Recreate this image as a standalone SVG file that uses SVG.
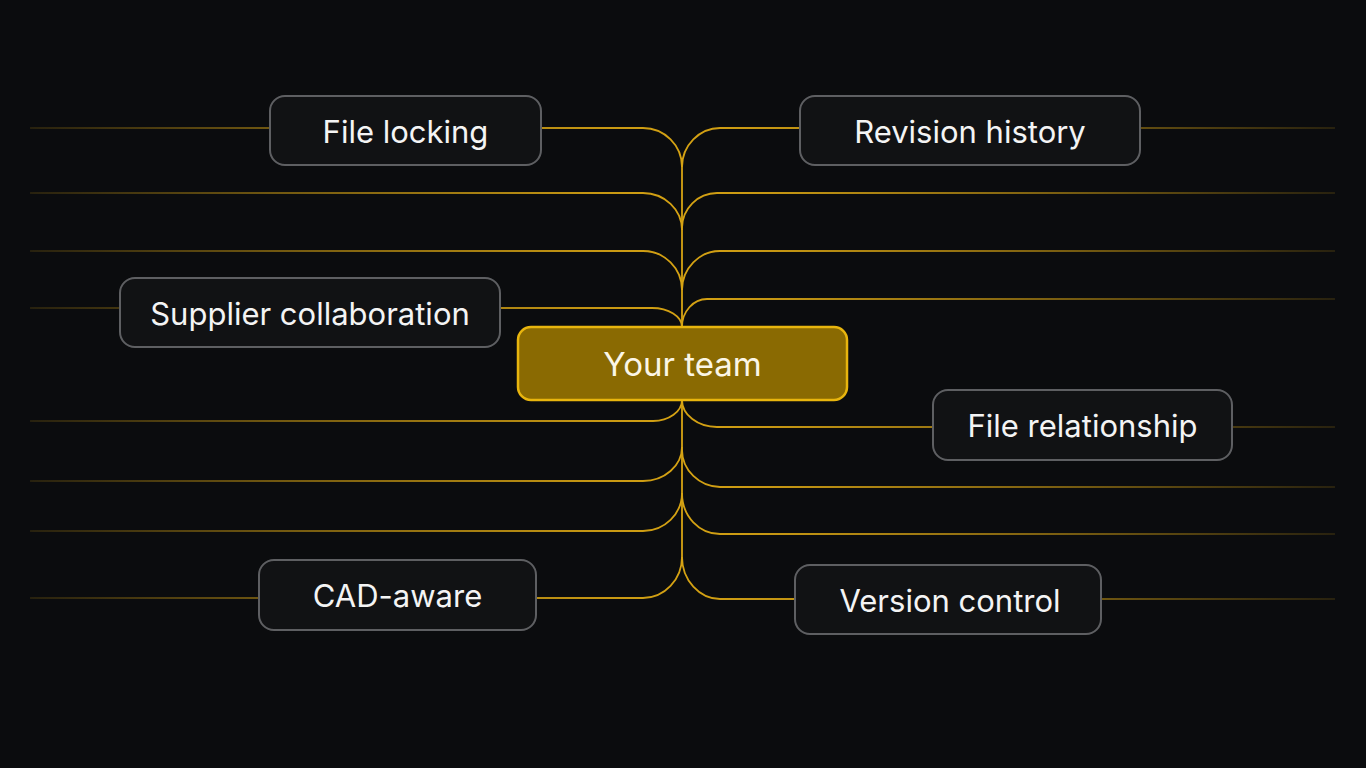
<svg xmlns="http://www.w3.org/2000/svg" width="1366" height="768" viewBox="0 0 1366 768">
<defs>
<linearGradient id="fade" gradientUnits="userSpaceOnUse" x1="0" y1="0" x2="1366" y2="0">
<stop offset="0" stop-color="#d6a313" stop-opacity="0"/>
<stop offset="0.025" stop-color="#d6a313" stop-opacity="0.15"/>
<stop offset="0.2" stop-color="#d6a313" stop-opacity="0.5"/>
<stop offset="0.42" stop-color="#d6a313" stop-opacity="0.9"/>
<stop offset="0.5" stop-color="#d6a313" stop-opacity="1"/>
<stop offset="0.58" stop-color="#d6a313" stop-opacity="0.9"/>
<stop offset="0.8" stop-color="#d6a313" stop-opacity="0.5"/>
<stop offset="0.975" stop-color="#d6a313" stop-opacity="0.15"/>
<stop offset="1" stop-color="#d6a313" stop-opacity="0"/>
</linearGradient>
</defs>
<style>
.bg{fill:#0b0c0e}
.conn path{fill:none;stroke:url(#fade);stroke-width:1.8}
.node rect{fill:#111214;stroke:#5e5f62;stroke-width:2}
.node text{font-family:Inter,"Noto Sans","Liberation Sans",sans-serif;font-size:31px;fill:#f4f4f4;text-anchor:middle;dominant-baseline:central}
#center rect{fill:#8a6a02;stroke:#e8b50e;stroke-width:2.5}
#center text{font-size:33px;fill:#fbf6e6}
</style>
<rect class="bg" x="0" y="0" width="1366" height="768"/>
<g id="connectors" class="conn">
<path d="M682,167 V557"/>
<path d="M30,128 H643 C664.5,128 682,145.5 682,167"/>
<path d="M30,193 H643 C664.5,193 682,209.7 682,230"/>
<path d="M30,251 H643 C664.5,251 682,268.5 682,290"/>
<path d="M30,308 H652 C668.5,308 682,316.5 682,327"/>
<path d="M1335,128 H720 C699.5,128 682,145.5 682,167"/>
<path d="M1335,193 H717 C697.8,193 682,208.8 682,228"/>
<path d="M1335,251 H720 C699.5,251 682,268.5 682,290"/>
<path d="M1335,299 H707 C693.3,299 682,311.6 682,327"/>
<path d="M30,421 H653 C669,421 682,411.5 682,400"/>
<path d="M30,481 H643 C664.5,481 682,465.7 682,447"/>
<path d="M30,531 H643 C664.5,531 682,513.9 682,493"/>
<path d="M30,598 H643 C664.5,598 682,579.5 682,557"/>
<path d="M1335,427 H717 C697.8,427 682,414.9 682,400"/>
<path d="M1335,487 H720 C699.5,487 682,469.9 682,450"/>
<path d="M1335,534 H720 C699.5,534 682,516.5 682,493"/>
<path d="M1335,599 H720 C699.5,599 682,580 682,557"/>
</g>
<g id="file-locking" class="node"><rect x="270" y="96" width="271" height="69" rx="15"/><text x="405.5" y="131">File locking</text></g>
<g id="revision-history" class="node"><rect x="800" y="96" width="340" height="69" rx="15"/><text x="970" y="131">Revision history</text></g>
<g id="supplier-collaboration" class="node"><rect x="120" y="278" width="380" height="69" rx="15"/><text x="310" y="313">Supplier collaboration</text></g>
<g id="center" class="node"><rect x="518" y="327" width="329" height="73" rx="13"/><text x="682.5" y="364">Your team</text></g>
<g id="file-relationship" class="node"><rect x="933" y="390" width="299" height="70" rx="15"/><text x="1082.5" y="425">File relationship</text></g>
<g id="cad-aware" class="node"><rect x="259" y="560" width="277" height="70" rx="15"/><text x="397.5" y="595">CAD-aware</text></g>
<g id="version-control" class="node"><rect x="795" y="565" width="306" height="69" rx="15"/><text x="950" y="600">Version control</text></g>
</svg>
